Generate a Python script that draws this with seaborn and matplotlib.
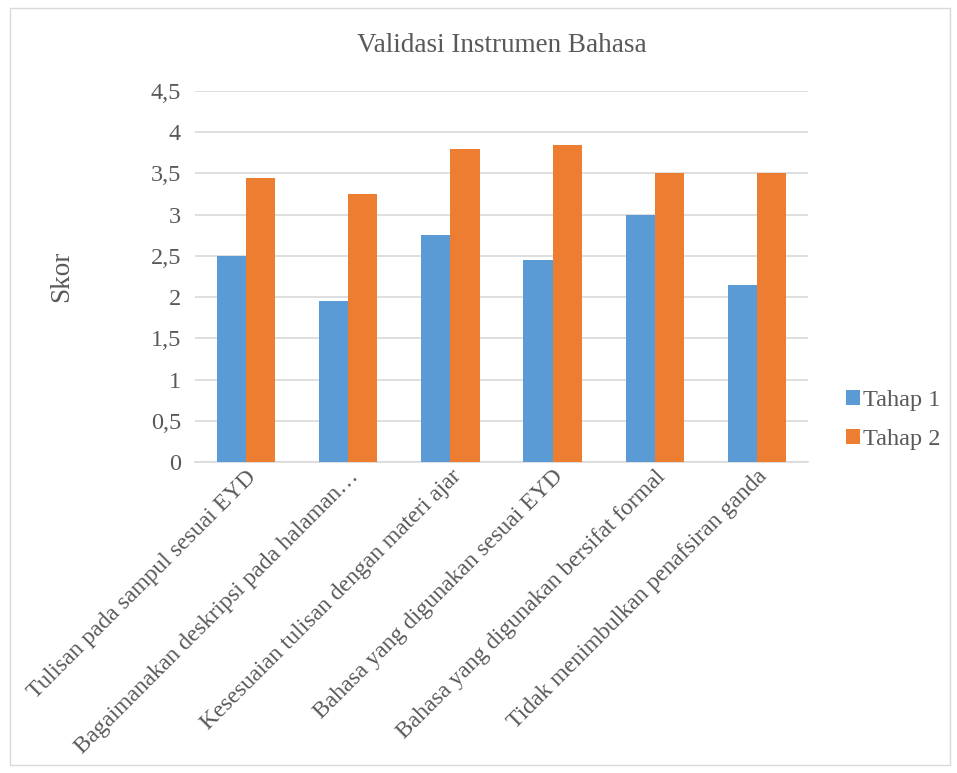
import matplotlib
matplotlib.use("Agg")
import matplotlib.pyplot as plt
import seaborn as sns
import pandas as pd
from matplotlib.patches import Rectangle

categories = [
    "Tulisan pada sampul sesuai EYD",
    "Bagaimanakan deskripsi pada halaman…",
    "Kesesuaian tulisan dengan materi ajar",
    "Bahasa yang digunakan sesuai EYD",
    "Bahasa yang digunakan bersifat formal",
    "Tidak menimbulkan penafsiran ganda",
]
tahap1 = [2.5, 1.95, 2.75, 2.45, 3.0, 2.15]
tahap2 = [3.45, 3.25, 3.8, 3.85, 3.5, 3.5]
series_names = ["Tahap 1", "Tahap 2"]
y_ticks = [0, 0.5, 1, 1.5, 2, 2.5, 3, 3.5, 4, 4.5]
y_tick_labels = ["0", "0,5", "1", "1,5", "2", "2,5", "3", "3,5", "4", "4,5"]

df = pd.DataFrame({
    "Kategori": categories * 2,
    "Skor": tahap1 + tahap2,
    "Tahap": [series_names[0]] * len(categories) + [series_names[1]] * len(categories),
})

sns.set_theme(style="white")
plt.rcParams["font.family"] = ["Liberation Serif", "DejaVu Serif"]
text_color = "#595959"

fig = plt.figure(figsize=(9.57, 7.73), dpi=100)
ax = fig.add_axes([195 / 957, 1 - 462 / 773, (808 - 195) / 957, (462 - 91) / 773])

sns.barplot(data=df, x="Kategori", y="Skor", hue="Tahap", order=categories,
            hue_order=series_names, palette=["#5b9bd5", "#ed7d31"],
            width=0.57, gap=0, saturation=1, linewidth=0, ax=ax, zorder=3)

ax.set_ylim(0, 4.5)
ax.set_yticks(y_ticks)
ax.set_yticklabels(y_tick_labels, fontsize=17.5, color=text_color)
ax.yaxis.grid(True, color="#d9d9d9", linewidth=1.2, zorder=0)
ax.set_axisbelow(True)
for s in ["top", "right", "left"]:
    ax.spines[s].set_visible(False)
ax.spines["bottom"].set_color("#d9d9d9")
ax.spines["bottom"].set_linewidth(1.2)
ax.tick_params(axis="y", length=0, pad=10)
ax.tick_params(axis="x", length=0, pad=3)
ax.set_xticks(range(len(categories)))
ax.set_xticklabels(categories, rotation=45, ha="right", va="top",
                   rotation_mode="anchor", fontsize=17, color=text_color)
ax.set_xlabel("")
ax.set_ylabel("Skor", fontsize=19.5, color=text_color)
ax.yaxis.set_label_coords(-0.197, 0.5)

ax.set_title("Validasi Instrumen Bahasa", fontsize=19.5, color=text_color, pad=28)

ax.legend(loc="center left", bbox_to_anchor=(1.027, 0.113), frameon=False,
          fontsize=17.5, labelcolor=text_color, handlelength=0.55, handleheight=0.55,
          handletextpad=0.15, labelspacing=0.72)

fig.patches.append(Rectangle((10 / 957, 1 - 765 / 773), 940 / 957, 757 / 773,
                             transform=fig.transFigure, fill=False,
                             edgecolor="#d9d9d9", linewidth=1))

fig.savefig("out.png", dpi=100)
